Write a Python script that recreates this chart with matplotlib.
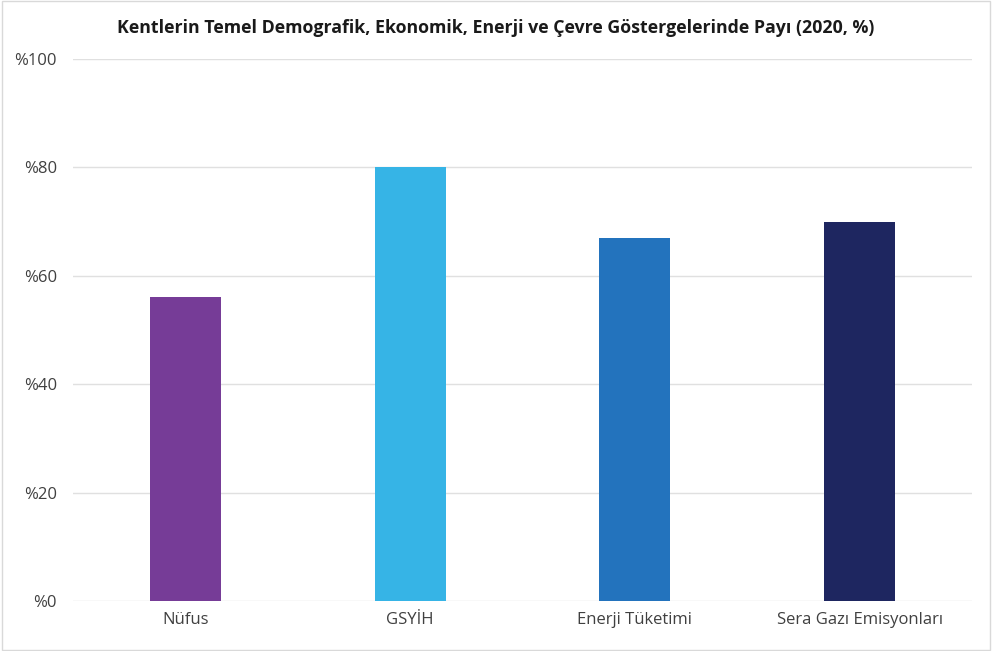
import matplotlib.pyplot as plt
from matplotlib.patches import Rectangle

# Data
categories = ["Nüfus", "GSYİH", "Enerji Tüketimi", "Sera Gazı Emisyonları"]
values = [56, 80, 67, 70]
colors = ["#763C97", "#36B4E6", "#2373BD", "#1E2660"]
yticks = [0, 20, 40, 60, 80, 100]
ytick_labels = ["%" + str(v) for v in yticks]

plt.rcParams['font.family'] = ['Open Sans', 'DejaVu Sans']

fig = plt.figure(figsize=(9.92, 6.51), dpi=100)
ax = fig.add_axes([73/992, 1 - 601/651, (972 - 73)/992, (601 - 59)/651])

x = range(len(categories))
ax.bar(x, values, width=0.316, color=colors, zorder=3)

ax.set_xlim(-0.5, len(categories) - 0.5)
ax.set_ylim(0, 100)
ax.set_yticks(yticks)
ax.set_yticklabels(ytick_labels)
ax.set_xticks(list(x))
ax.set_xticklabels(categories)
ax.tick_params(axis='both', length=0, labelsize=12, colors="#404040")
ax.tick_params(axis='y', pad=11.5)
ax.tick_params(axis='x', pad=8)

ax.grid(axis='y', color="#E0E0E0", linewidth=1, zorder=0)
for s in ax.spines.values():
    s.set_visible(False)

fig.text(0.5, 1 - 28/651, "Kentlerin Temel Demografik, Ekonomik, Enerji ve Çevre Göstergelerinde Payı (2020, %)",
         ha='center', va='center', fontsize=12.75, fontweight='bold', color="#1a1a1a")

fig.patches.append(Rectangle((0.002, 0.002), 0.996, 0.996, transform=fig.transFigure,
                             fill=False, edgecolor="#D9D9D9", linewidth=1))

plt.savefig("out.png", dpi=100)
